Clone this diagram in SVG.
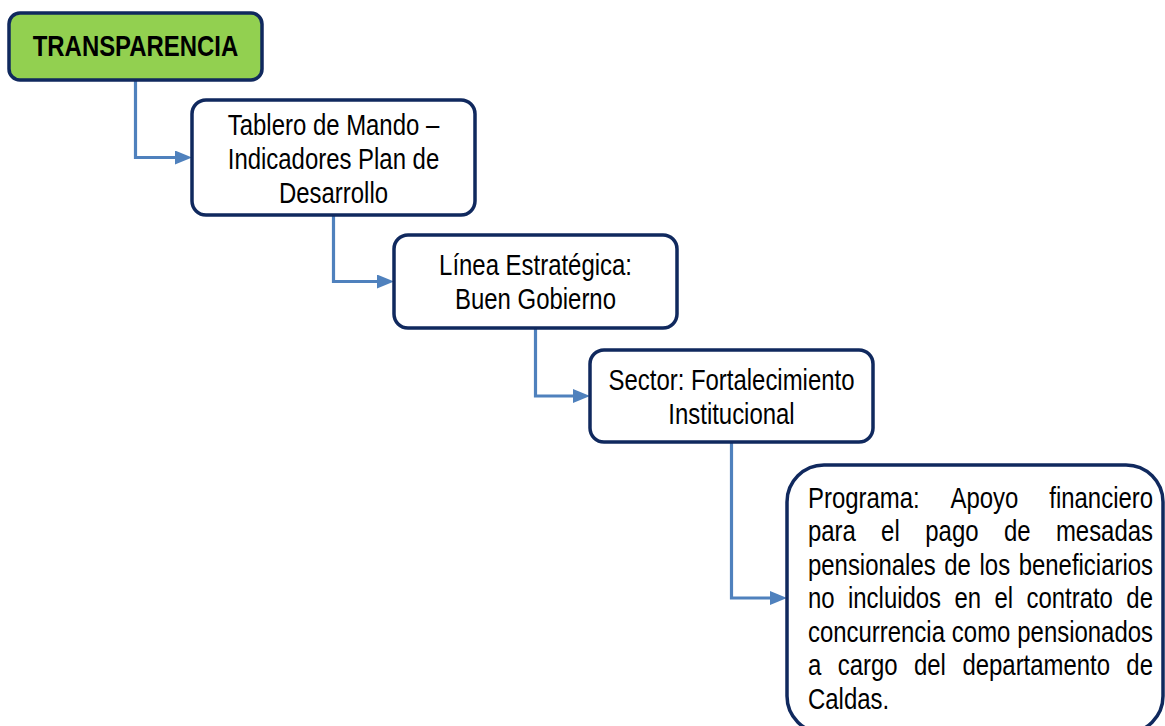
<svg xmlns="http://www.w3.org/2000/svg" width="1165" height="726" viewBox="0 0 1165 726">
<style>
.box{fill:#ffffff;stroke:#10295e;stroke-width:3.5}
.green{fill:#92d050}
.t{font-family:"Liberation Sans",Arial,sans-serif;font-size:29px;fill:#000000}
.c{text-anchor:middle}
.b{font-weight:bold}
.conn{fill:none;stroke:#4f81bd;stroke-width:3.2}
</style>
<defs>
<marker id="ah" markerWidth="17" markerHeight="14" refX="0" refY="7" orient="auto" markerUnits="userSpaceOnUse">
<path d="M0,0 L17,7 L0,14 z" fill="#4f81bd"/>
</marker>
</defs>
<rect width="1165" height="726" fill="#ffffff"/>
<g id="connectors">
<path class="conn" d="M135.5,80 V157.5 H175" marker-end="url(#ah)"/>
<path class="conn" d="M333.5,215 V281.5 H377" marker-end="url(#ah)"/>
<path class="conn" d="M535.5,328 V396 H573" marker-end="url(#ah)"/>
<path class="conn" d="M731.5,442 V598 H770" marker-end="url(#ah)"/>
</g>
<g id="n1">
<rect class="box green" x="9" y="13" width="253" height="67" rx="11"/>
<text class="t b c" transform="translate(135.5 56) scale(0.825 1)">TRANSPARENCIA</text>
</g>
<g id="n2">
<rect class="box" x="192" y="100" width="283" height="115" rx="14"/>
<text class="t c" transform="translate(333.5 0) scale(0.825 1)"><tspan x="0" y="135">Tablero de Mando –</tspan><tspan x="0" y="169">Indicadores Plan de</tspan><tspan x="0" y="203">Desarrollo</tspan></text>
</g>
<g id="n3">
<rect class="box" x="394" y="235" width="283" height="93" rx="14"/>
<text class="t c" transform="translate(535.5 0) scale(0.825 1)"><tspan x="0" y="275">Línea Estratégica:</tspan><tspan x="0" y="309">Buen Gobierno</tspan></text>
</g>
<g id="n4">
<rect class="box" x="590" y="350" width="283" height="92" rx="14"/>
<text class="t c" transform="translate(731.5 0) scale(0.825 1)"><tspan x="0" y="390">Sector: Fortalecimiento</tspan><tspan x="0" y="424">Institucional</tspan></text>
</g>
<g id="n5">
<rect class="box" x="787" y="465" width="376" height="268" rx="37"/>
<g transform="translate(808 0) scale(0.825 1)">
<text class="t" y="508"><tspan x="0">Programa: </tspan><tspan x="172.8">Apoyo </tspan><tspan x="292.5">financiero</tspan></text>
<text class="t" y="541.5"><tspan x="0">para </tspan><tspan x="88.6">el </tspan><tspan x="142.2">pago </tspan><tspan x="237.5">de </tspan><tspan x="300.5">mesadas</tspan></text>
<text class="t" y="575"><tspan x="0">pensionales </tspan><tspan x="165.2">de </tspan><tspan x="207.9">los </tspan><tspan x="255.4">beneficiarios</tspan></text>
<text class="t" y="608.5"><tspan x="0">no </tspan><tspan x="48.5">incluidos </tspan><tspan x="177.6">en </tspan><tspan x="226.1">el </tspan><tspan x="264.8">contrato </tspan><tspan x="385.9">de</tspan></text>
<text class="t" y="642"><tspan x="0">concurrencia </tspan><tspan x="174.4">como </tspan><tspan x="253.7">pensionados</tspan></text>
<text class="t" y="675.5"><tspan x="0">a </tspan><tspan x="36.1">cargo </tspan><tspan x="128.5">del </tspan><tspan x="187.2">departamento </tspan><tspan x="385.9">de</tspan></text>
<text class="t" y="709">Caldas.</text>
</g>
</g>
</svg>
